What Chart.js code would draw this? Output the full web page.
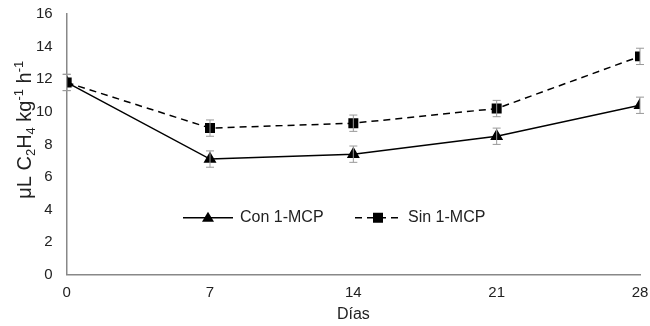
<!DOCTYPE html>
<html><head><meta charset="utf-8">
<script src="https://cdn.jsdelivr.net/npm/chart.js@4"></script>
<style>html,body{margin:0;padding:0;background:#fff}#wrap{width:650px;height:326px}</style>
</head><body><div id="wrap"><canvas id="c"></canvas></div>
<script>
const days = [0, 7, 14, 21, 28];
const conMCP = [11.8, 7.1, 7.4, 8.5, 10.4];
const sinMCP = [11.8, 9.0, 9.3, 10.2, 13.4];
const conErr = [0.5, 0.5, 0.5, 0.5, 0.5];
const sinErr = [0.5, 0.5, 0.5, 0.5, 0.5];
const seriesNames = ['Con 1-MCP', 'Sin 1-MCP'];
const xTitle = 'Días';
// y-axis title pieces: [text, kind] where kind is 'n' normal, 'sub', 'sup'
const yTitleParts = [['μL C', 'n'], ['2', 'sub'], ['H', 'n'], ['4', 'sub'], [' kg', 'n'], ['-1', 'sup'], [' h', 'n'], ['-1', 'sup']];
const FONT = '"Liberation Sans", Arial, sans-serif';

const errorBars = {
  id: 'errorBars',
  afterDatasetsDraw(chart) {
    const ctx = chart.ctx, xs = chart.scales.x, ys = chart.scales.y;
    ctx.save();
    ctx.strokeStyle = '#999';
    ctx.lineWidth = 1;
    chart.data.datasets.forEach(ds => {
      ds.data.forEach((p, i) => {
        const e = ds.err[i];
        const x = xs.getPixelForValue(p.x);
        const y1 = ys.getPixelForValue(p.y + e), y2 = ys.getPixelForValue(p.y - e);
        ctx.beginPath();
        ctx.moveTo(x, y1); ctx.lineTo(x, y2);
        ctx.moveTo(x - 4, y1); ctx.lineTo(x + 4, y1);
        ctx.moveTo(x - 4, y2); ctx.lineTo(x + 4, y2);
        ctx.stroke();
      });
    });
    ctx.restore();
  }
};

const yTitlePlugin = {
  id: 'yTitlePlugin',
  afterDraw(chart) {
    const ctx = chart.ctx, ys = chart.scales.y;
    const main = 20, small = 13;
    ctx.save();
    ctx.fillStyle = '#222';
    ctx.textBaseline = 'alphabetic';
    ctx.textAlign = 'left';
    let total = 0;
    yTitleParts.forEach(([t, k]) => {
      ctx.font = (k === 'n' ? main : small) + 'px ' + FONT;
      total += ctx.measureText(t).width;
    });
    const cy = ys.getPixelForValue(8.9);
    ctx.translate(ys.right - 36, cy);
    ctx.rotate(-Math.PI / 2);
    let x = -total / 2;
    yTitleParts.forEach(([t, k]) => {
      ctx.font = (k === 'n' ? main : small) + 'px ' + FONT;
      const dy = k === 'sub' ? 4 : (k === 'sup' ? -8 : 0);
      ctx.fillText(t, x, dy);
      x += ctx.measureText(t).width;
    });
    ctx.restore();
  }
};

const customLegend = {
  id: 'customLegend',
  afterDraw(chart) {
    const ctx = chart.ctx, ys = chart.scales.y;
    const y = ys.getPixelForValue(3.5);
    const items = [
      {x: 183, len: 50, ds: chart.data.datasets[0]},
      {x: 355, len: 46, ds: chart.data.datasets[1]}
    ];
    ctx.save();
    ctx.font = '16px ' + FONT;
    ctx.textBaseline = 'middle';
    items.forEach(it => {
      ctx.strokeStyle = '#000';
      ctx.lineWidth = 1.5;
      ctx.setLineDash(it.ds.borderDash || []);
      ctx.beginPath(); ctx.moveTo(it.x, y); ctx.lineTo(it.x + it.len, y); ctx.stroke();
      ctx.setLineDash([]);
      ctx.fillStyle = '#000';
      const cx = it.x + it.len / 2;
      if (it.ds.pointStyle === 'triangle') {
        ctx.beginPath(); ctx.moveTo(cx, y - 6); ctx.lineTo(cx + 6, y + 4); ctx.lineTo(cx - 6, y + 4); ctx.closePath(); ctx.fill();
      } else {
        ctx.fillRect(cx - 5, y - 5, 10, 10);
      }
      ctx.fillStyle = '#222';
      ctx.fillText(it.ds.label, it.x + it.len + 7, y);
    });
    ctx.restore();
  }
};

new Chart(document.getElementById('c'), {
  type: 'line',
  data: {
    datasets: [
      {label: seriesNames[0], data: days.map((d, i) => ({x: d, y: conMCP[i]})), err: conErr,
       borderColor: '#000', borderWidth: 1.5, pointStyle: 'triangle', pointRadius: 6,
       pointBackgroundColor: '#000', pointBorderColor: '#000', tension: 0},
      {label: seriesNames[1], data: days.map((d, i) => ({x: d, y: sinMCP[i]})), err: sinErr,
       borderColor: '#000', borderWidth: 1.5, borderDash: [7, 5], pointStyle: 'rect', pointRadius: 6,
       pointBackgroundColor: '#000', pointBorderColor: '#000', tension: 0}
    ]
  },
  options: {
    responsive: true, maintainAspectRatio: false, animation: false,
    layout: {padding: {left: 22, right: 10, top: 14, bottom: 0}},
    plugins: {legend: {display: false}, tooltip: {enabled: false}},
    scales: {
      x: {type: 'linear', min: 0, max: 28,
          afterFit(s) { s.paddingRight = 0; },
          ticks: {stepSize: 7, color: '#222', font: {size: 15, family: FONT}, padding: 9, maxRotation: 0},
          grid: {display: false, drawTicks: false},
          border: {display: true, color: '#888', width: 1.5},
          title: {display: true, text: xTitle, color: '#222', font: {size: 16, family: FONT}, padding: {top: -6, bottom: 2}}},
      y: {min: 0, max: 16,
          afterFit(s) { s.paddingTop = 0; },
          ticks: {stepSize: 2, color: '#222', font: {size: 15, family: FONT}, padding: 14},
          grid: {display: false, drawTicks: false},
          border: {display: true, color: '#888', width: 1.5},
          title: {display: false}}
    }
  },
  plugins: [errorBars, yTitlePlugin, customLegend]
});
</script></body></html>
